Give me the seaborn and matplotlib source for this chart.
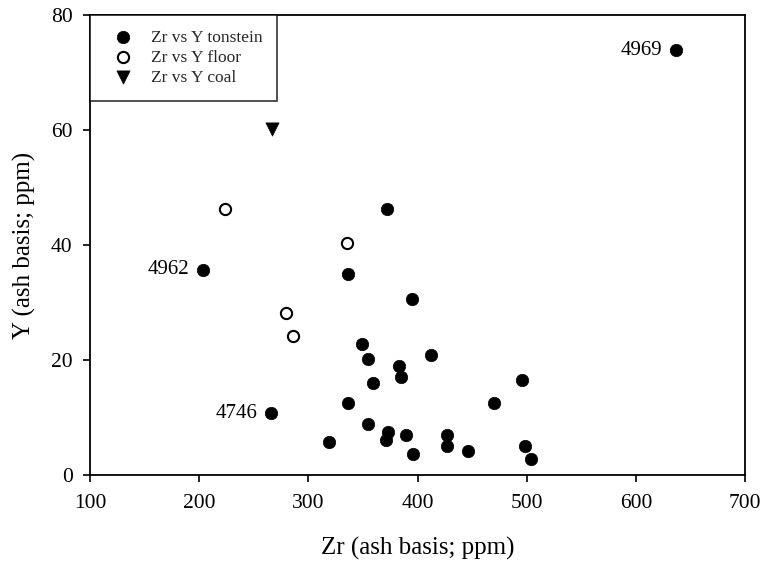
import matplotlib
matplotlib.use("Agg")
import matplotlib.pyplot as plt
import seaborn as sns
import pandas as pd

# Data
tonstein_zr = [637, 203.8, 265.8, 372, 336, 394.6, 349.4, 354.3, 383.3, 385.1, 359, 412,
               495.7, 336.6, 469.8, 355, 318.9, 373.3, 371.1, 389.5, 395.9, 426.7, 426.7,
               446, 498.7, 503.7]
tonstein_y = [73.9, 35.7, 10.7, 46.2, 35.0, 30.6, 22.8, 20.2, 19.0, 17.0, 16.0, 20.9,
              16.6, 12.6, 12.5, 8.8, 5.75, 7.5, 6.1, 6.9, 3.7, 7.0, 5.05,
              4.1, 5.1, 2.7]
floor_zr = [223.7, 335.7, 279.2, 285.6]
floor_y = [46.3, 40.4, 28.2, 24.1]
coal_zr = [266.7]
coal_y = [60.1]

label_text = ["4969", "4962", "4746"]
label_zr = [637, 203.8, 265.8]
label_y = [73.9, 35.7, 10.7]

series_names = ["Zr vs Y tonstein", "Zr vs Y floor", "Zr vs Y coal"]
x_ticks = [100, 200, 300, 400, 500, 600, 700]
y_ticks = [0, 20, 40, 60, 80]

sns.set_theme(style="white")
plt.rcParams['font.family'] = ['Liberation Serif', 'DejaVu Serif']

fig = plt.figure(figsize=(7.64, 5.68), dpi=100)
ax = fig.add_axes([90/764, 93/568, 655/764, 460/568])

df_t = pd.DataFrame({"Zr": tonstein_zr, "Y": tonstein_y})
df_f = pd.DataFrame({"Zr": floor_zr, "Y": floor_y})
df_c = pd.DataFrame({"Zr": coal_zr, "Y": coal_y})

sns.scatterplot(data=df_t, x="Zr", y="Y", ax=ax, marker="o", s=80, color="black",
                edgecolor="black", linewidth=0.5, label=series_names[0], zorder=3)
sns.scatterplot(data=df_f, x="Zr", y="Y", ax=ax, marker="o", s=65, facecolor="white",
                edgecolor="black", linewidth=1.5, label=series_names[1], zorder=3)
sns.scatterplot(data=df_c, x="Zr", y="Y", ax=ax, marker="v", s=90, color="black",
                edgecolor="black", linewidth=0.5, label=series_names[2], zorder=3)

for t, xv, yv in zip(label_text, label_zr, label_y):
    ax.annotate(t, (xv, yv), xytext=(-10, 0), textcoords="offset points",
                ha="right", va="center", fontsize=15, color="black")

ax.set_xlim(100, 700)
ax.set_ylim(0, 80)
ax.set_xticks(x_ticks)
ax.set_yticks(y_ticks)
ax.tick_params(direction="out", length=5, width=1.2, colors="black",
               labelsize=15.5, bottom=True, left=True)
ax.tick_params(axis="x", pad=9)
ax.tick_params(axis="y", pad=7.5)
for sp in ax.spines.values():
    sp.set_color("black")
    sp.set_linewidth(1.3)
ax.set_xlabel("Zr (ash basis; ppm)", fontsize=18, color="black")
ax.set_ylabel("Y (ash basis; ppm)", fontsize=18, color="black")
ax.xaxis.label.set_va("center")
ax.yaxis.label.set_va("center")
ax.xaxis.set_label_coords(0.5, (475 - 548) / 460)
ax.yaxis.set_label_coords((24 - 90) / 655, 0.5)

leg = ax.legend(loc="upper left", borderaxespad=0, frameon=True, fancybox=False,
                fontsize=12.5, handletextpad=0.55, borderpad=0.85, labelspacing=0.22,
                handlelength=2.1)
leg.get_frame().set_edgecolor("black")
leg.get_frame().set_linewidth(1.2)

fig.savefig("out.png", dpi=100)
